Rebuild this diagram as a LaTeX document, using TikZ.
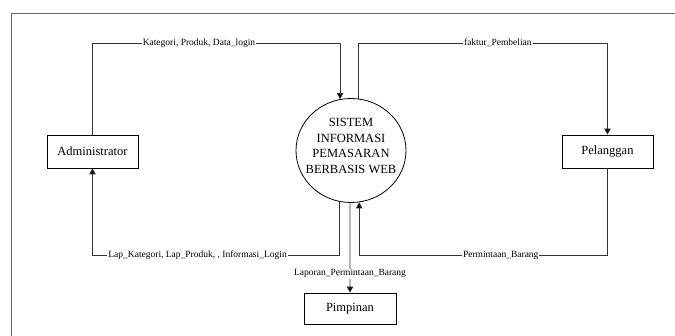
\documentclass[tikz,border=0pt]{standalone}
\usepackage{fontspec}
\setmainfont{Liberation Serif}
\usetikzlibrary{arrows.meta,shapes.geometric,calc}
\begin{document}
\begin{tikzpicture}[x=1pt,y=-1pt,
  flow/.style={draw=black!80,line width=0.8pt,-{Triangle[length=6pt,width=6.5pt,fill=black]}},
  entity/.style={draw=black,line width=0.8pt,minimum width=91pt,minimum height=33pt,inner sep=0pt,font=\fontsize{12.5}{15}\selectfont},
  proc/.style={draw=black,line width=0.8pt,ellipse,minimum width=110pt,minimum height=104pt,inner sep=0pt},
  proctext/.style={align=center,inner sep=0pt,font=\fontsize{12.5}{15.5}\selectfont},
  lbl/.style={fill=white,inner sep=1pt,font=\fontsize{9.5}{11}\selectfont}]
\clip (0,0) rectangle (675,336);
\fill[white] (0,0) rectangle (675,336);
\draw[black!60,line width=0.8pt] (11,13) rectangle (690,350);
\node[entity] (adm) at (92.5,151.5) {Administrator};
\node[entity] (pel) at (607.5,151.5) {Pelanggan};
\node[entity,minimum width=92pt,minimum height=31pt] (pim) at (350,308.5) {Pimpinan};
\node[proc] (sys) at (351,150.5) {};
\node[proctext] (systext) at (351,146) {SISTEM\\INFORMASI\\PEMASARAN\\BERBASIS WEB};
\coordinate (ytop) at (0,43);
\coordinate (ybot) at (0,255);
\draw[flow] (adm.north) -- (adm.north |- ytop) -| node[lbl,pos=0.215] {Kategori, Produk, Data\_login} (sys.102);
\draw[flow] (sys.82) -- (sys.82 |- ytop) -| node[lbl,pos=0.28] {faktur\_Pembelian} (pel.north);
\draw[flow] (pel.south) -- (pel.south |- ybot) -| node[lbl,pos=0.215] {Permintaan\_Barang} (sys.279);
\draw[flow] (sys.257) -- (sys.257 |- ybot) -| node[lbl,pos=0.287] {Lap\_Kategori, Lap\_Produk, , Informasi\_Login} (adm.south);
\draw[flow] (sys.269) -- node[lbl,pos=0.79] {Laporan\_Permintaan\_Barang} (pim.north);
\end{tikzpicture}
\end{document}
